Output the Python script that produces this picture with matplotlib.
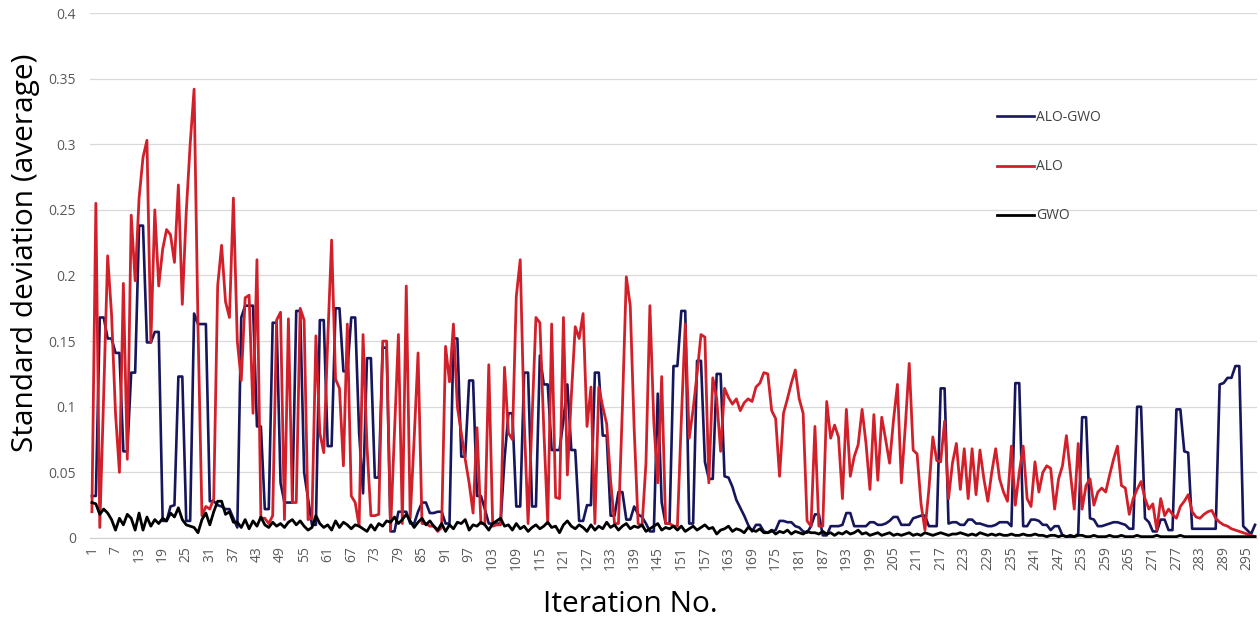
import numpy as np
import matplotlib
matplotlib.use("Agg")
import matplotlib.pyplot as plt

plt.rcParams['font.family'] = ['Open Sans', 'DejaVu Sans']

# standard deviation (average) per iteration
alo_gwo = [
    0.032, 0.032, 0.168, 0.168, 0.152, 0.152, 0.141, 0.141, 0.066, 0.066,
    0.126, 0.126, 0.238, 0.238, 0.149, 0.149, 0.157, 0.157, 0.013, 0.013,
    0.024, 0.025, 0.123, 0.123, 0.013, 0.013, 0.171, 0.163, 0.163, 0.163,
    0.028, 0.028, 0.025, 0.024, 0.022, 0.022, 0.015, 0.008, 0.168, 0.177,
    0.177, 0.177, 0.085, 0.085, 0.022, 0.022, 0.164, 0.164, 0.042, 0.027,
    0.027, 0.027, 0.173, 0.173, 0.050, 0.030, 0.010, 0.010, 0.166, 0.166,
    0.070, 0.070, 0.175, 0.175, 0.127, 0.127, 0.168, 0.168, 0.080, 0.034,
    0.137, 0.137, 0.046, 0.046, 0.145, 0.145, 0.005, 0.005, 0.020, 0.020,
    0.020, 0.011, 0.011, 0.020, 0.027, 0.027, 0.019, 0.019, 0.020, 0.020,
    0.011, 0.011, 0.152, 0.152, 0.062, 0.062, 0.120, 0.120, 0.032, 0.032,
    0.022, 0.011, 0.011, 0.011, 0.011, 0.060, 0.095, 0.095, 0.024, 0.024,
    0.126, 0.126, 0.024, 0.024, 0.139, 0.117, 0.117, 0.067, 0.067, 0.067,
    0.090, 0.117, 0.067, 0.067, 0.013, 0.013, 0.025, 0.025, 0.126, 0.126,
    0.078, 0.078, 0.017, 0.017, 0.035, 0.035, 0.014, 0.014, 0.024, 0.018,
    0.016, 0.011, 0.005, 0.005, 0.110, 0.027, 0.011, 0.011, 0.131, 0.131,
    0.173, 0.173, 0.011, 0.011, 0.135, 0.135, 0.058, 0.045, 0.045, 0.125,
    0.125, 0.047, 0.046, 0.039, 0.029, 0.023, 0.017, 0.010, 0.005, 0.010,
    0.010, 0.005, 0.004, 0.005, 0.006, 0.013, 0.013, 0.012, 0.012, 0.009,
    0.008, 0.005, 0.004, 0.009, 0.018, 0.018, 0.002, 0.002, 0.009, 0.009,
    0.009, 0.010, 0.019, 0.019, 0.009, 0.009, 0.009, 0.009, 0.012, 0.012,
    0.010, 0.010, 0.011, 0.013, 0.016, 0.016, 0.010, 0.010, 0.010, 0.015,
    0.016, 0.017, 0.017, 0.009, 0.009, 0.009, 0.114, 0.114, 0.011, 0.012,
    0.012, 0.010, 0.010, 0.014, 0.014, 0.011, 0.011, 0.010, 0.009, 0.009,
    0.010, 0.012, 0.012, 0.012, 0.009, 0.118, 0.118, 0.009, 0.009, 0.014,
    0.014, 0.013, 0.010, 0.010, 0.006, 0.009, 0.009, 0.002, 0.001, 0.001,
    0.001, 0.003, 0.092, 0.092, 0.015, 0.014, 0.009, 0.009, 0.010, 0.011,
    0.012, 0.012, 0.011, 0.010, 0.007, 0.007, 0.100, 0.100, 0.015, 0.012,
    0.005, 0.005, 0.014, 0.014, 0.006, 0.006, 0.098, 0.098, 0.066, 0.065,
    0.007, 0.007, 0.007, 0.007, 0.007, 0.007, 0.007, 0.117, 0.118, 0.122,
    0.122, 0.131, 0.131, 0.009, 0.006, 0.003, 0.010,
]

alo = [
    0.020, 0.255, 0.008, 0.110, 0.215, 0.170, 0.095, 0.050, 0.194, 0.060,
    0.246, 0.196, 0.259, 0.290, 0.303, 0.149, 0.250, 0.192, 0.220, 0.235,
    0.231, 0.210, 0.269, 0.178, 0.248, 0.300, 0.342, 0.160, 0.017, 0.024,
    0.022, 0.030, 0.192, 0.223, 0.180, 0.168, 0.259, 0.150, 0.120, 0.183,
    0.185, 0.095, 0.212, 0.015, 0.015, 0.011, 0.017, 0.166, 0.172, 0.014,
    0.167, 0.027, 0.027, 0.175, 0.166, 0.014, 0.015, 0.154, 0.080, 0.065,
    0.150, 0.227, 0.121, 0.114, 0.055, 0.163, 0.032, 0.027, 0.009, 0.155,
    0.070, 0.017, 0.017, 0.018, 0.150, 0.150, 0.006, 0.080, 0.155, 0.011,
    0.192, 0.015, 0.075, 0.141, 0.011, 0.011, 0.009, 0.009, 0.005, 0.008,
    0.146, 0.119, 0.163, 0.100, 0.080, 0.060, 0.042, 0.019, 0.084, 0.011,
    0.011, 0.132, 0.009, 0.010, 0.010, 0.130, 0.080, 0.075, 0.184, 0.212,
    0.090, 0.011, 0.090, 0.168, 0.164, 0.083, 0.011, 0.163, 0.031, 0.030,
    0.168, 0.048, 0.108, 0.161, 0.152, 0.171, 0.085, 0.115, 0.011, 0.115,
    0.100, 0.087, 0.044, 0.011, 0.011, 0.099, 0.199, 0.177, 0.083, 0.011,
    0.009, 0.057, 0.177, 0.088, 0.042, 0.123, 0.011, 0.011, 0.009, 0.009,
    0.090, 0.163, 0.076, 0.098, 0.125, 0.155, 0.153, 0.042, 0.122, 0.106,
    0.066, 0.114, 0.107, 0.102, 0.106, 0.097, 0.103, 0.106, 0.104, 0.115,
    0.118, 0.126, 0.125, 0.097, 0.091, 0.047, 0.095, 0.106, 0.118, 0.128,
    0.106, 0.095, 0.013, 0.009, 0.085, 0.009, 0.009, 0.104, 0.076, 0.086,
    0.077, 0.030, 0.098, 0.047, 0.062, 0.071, 0.098, 0.072, 0.037, 0.094,
    0.044, 0.092, 0.075, 0.057, 0.090, 0.117, 0.042, 0.085, 0.133, 0.067,
    0.064, 0.026, 0.006, 0.037, 0.077, 0.059, 0.058, 0.089, 0.030, 0.057,
    0.072, 0.037, 0.068, 0.030, 0.068, 0.033, 0.067, 0.045, 0.028, 0.050,
    0.068, 0.045, 0.035, 0.028, 0.070, 0.025, 0.050, 0.070, 0.030, 0.024,
    0.058, 0.035, 0.050, 0.055, 0.053, 0.022, 0.045, 0.055, 0.078, 0.050,
    0.022, 0.072, 0.022, 0.040, 0.045, 0.025, 0.035, 0.038, 0.035, 0.048,
    0.060, 0.070, 0.040, 0.038, 0.018, 0.030, 0.037, 0.043, 0.030, 0.022,
    0.026, 0.006, 0.030, 0.017, 0.022, 0.018, 0.015, 0.024, 0.028, 0.033,
    0.020, 0.016, 0.015, 0.018, 0.020, 0.021, 0.015, 0.012, 0.010, 0.009,
    0.007, 0.006, 0.005, 0.004, 0.003, 0.002, 0.001,
]

gwo = [
    0.027, 0.026, 0.018, 0.022, 0.019, 0.014, 0.006, 0.015, 0.010, 0.018,
    0.015, 0.006, 0.019, 0.006, 0.016, 0.009, 0.014, 0.011, 0.015, 0.013,
    0.019, 0.016, 0.023, 0.014, 0.010, 0.009, 0.008, 0.004, 0.014, 0.019,
    0.010, 0.020, 0.028, 0.028, 0.018, 0.020, 0.012, 0.012, 0.008, 0.014,
    0.007, 0.013, 0.009, 0.016, 0.010, 0.008, 0.012, 0.009, 0.011, 0.008,
    0.012, 0.014, 0.010, 0.013, 0.009, 0.006, 0.008, 0.017, 0.011, 0.008,
    0.010, 0.006, 0.013, 0.008, 0.012, 0.010, 0.007, 0.010, 0.009, 0.007,
    0.005, 0.010, 0.006, 0.011, 0.009, 0.013, 0.012, 0.016, 0.011, 0.014,
    0.018, 0.013, 0.008, 0.012, 0.015, 0.010, 0.013, 0.009, 0.006, 0.011,
    0.005, 0.010, 0.007, 0.012, 0.011, 0.014, 0.006, 0.010, 0.009, 0.012,
    0.010, 0.006, 0.011, 0.013, 0.015, 0.009, 0.010, 0.006, 0.011, 0.007,
    0.009, 0.005, 0.008, 0.010, 0.007, 0.009, 0.012, 0.008, 0.009, 0.004,
    0.010, 0.013, 0.009, 0.007, 0.010, 0.008, 0.005, 0.010, 0.006, 0.009,
    0.007, 0.012, 0.008, 0.010, 0.006, 0.009, 0.011, 0.007, 0.009, 0.008,
    0.010, 0.005, 0.007, 0.009, 0.011, 0.006, 0.008, 0.007, 0.009, 0.006,
    0.009, 0.005, 0.007, 0.009, 0.006, 0.008, 0.010, 0.007, 0.008, 0.003,
    0.006, 0.007, 0.009, 0.005, 0.007, 0.006, 0.004, 0.008, 0.006, 0.005,
    0.007, 0.004, 0.004, 0.006, 0.003, 0.005, 0.004, 0.006, 0.003, 0.005,
    0.004, 0.003, 0.005, 0.004, 0.004, 0.003, 0.005, 0.003, 0.004, 0.002,
    0.004, 0.003, 0.005, 0.003, 0.004, 0.006, 0.003, 0.004, 0.002, 0.003,
    0.004, 0.002, 0.003, 0.004, 0.002, 0.003, 0.002, 0.003, 0.004, 0.002,
    0.003, 0.002, 0.004, 0.003, 0.002, 0.003, 0.004, 0.003, 0.002, 0.003,
    0.003, 0.004, 0.003, 0.002, 0.003, 0.002, 0.004, 0.003, 0.002, 0.003,
    0.002, 0.003, 0.002, 0.002, 0.003, 0.002, 0.002, 0.003, 0.002, 0.002,
    0.003, 0.002, 0.002, 0.001, 0.002, 0.002, 0.001, 0.002, 0.001, 0.002,
    0.001, 0.002, 0.002, 0.001, 0.001, 0.002, 0.001, 0.001, 0.001, 0.002,
    0.001, 0.001, 0.002, 0.001, 0.001, 0.001, 0.002, 0.001, 0.001, 0.001,
    0.001, 0.002, 0.001, 0.001, 0.001, 0.001, 0.001, 0.002, 0.001, 0.001,
    0.001, 0.001, 0.001, 0.001, 0.001, 0.001, 0.001, 0.001, 0.001, 0.001,
    0.001, 0.001, 0.001, 0.001, 0.001, 0.001, 0.001,
]

iters = np.arange(1, len(alo) + 1)
xtick_vals = list(range(1, 296, 6))
ytick_vals = [0, 0.05, 0.1, 0.15, 0.2, 0.25, 0.3, 0.35, 0.4]
ytick_labels = ["0", "0.05", "0.1", "0.15", "0.2", "0.25", "0.3", "0.35", "0.4"]

fig = plt.figure(figsize=(12.6, 6.2), dpi=100)
ax = fig.add_axes([0.0714, 0.1323, 0.9262, 0.8467])

ax.plot(iters, alo_gwo, color="#16165c", lw=1.9, label="ALO-GWO", zorder=3)
ax.plot(iters, alo, color="#d2202a", lw=2.0, label="ALO", zorder=4)
ax.plot(iters, gwo, color="black", lw=2.0, label="GWO", zorder=5)

ax.set_xlim(0.5, len(alo) + 0.5)
ax.set_ylim(0, 0.4)
ax.set_yticks(ytick_vals)
ax.set_yticklabels(ytick_labels)
ax.set_xticks(xtick_vals)
ax.set_xticklabels([str(v) for v in xtick_vals], rotation=90)
ax.tick_params(axis="both", length=0, labelsize=10, labelcolor="#595959")
ax.tick_params(axis="y", pad=10)
ax.tick_params(axis="x", pad=6)

ax.grid(axis="y", color="#d9d9d9", lw=0.9)
ax.set_axisbelow(True)
for sp in ["top", "right", "left"]:
    ax.spines[sp].set_visible(False)
ax.spines["bottom"].set_color("#d0d0d0")

ax.set_ylabel("Standard deviation (average)", fontsize=21.5)
ax.yaxis.set_label_coords(-0.043, 0.543)
ax.set_xlabel("Iteration No.", fontsize=21.5)
ax.xaxis.set_label_coords(0.463, -0.099)

leg = ax.legend(loc="upper left", bbox_to_anchor=(0.791, 0.822),
                bbox_transform=fig.transFigure, frameon=False,
                fontsize=10, handlelength=2.7, handletextpad=0.15,
                labelspacing=2.45, borderpad=0, borderaxespad=0)
for t in leg.get_texts():
    t.set_color("#404040")

fig.savefig("out.png", dpi=100)
